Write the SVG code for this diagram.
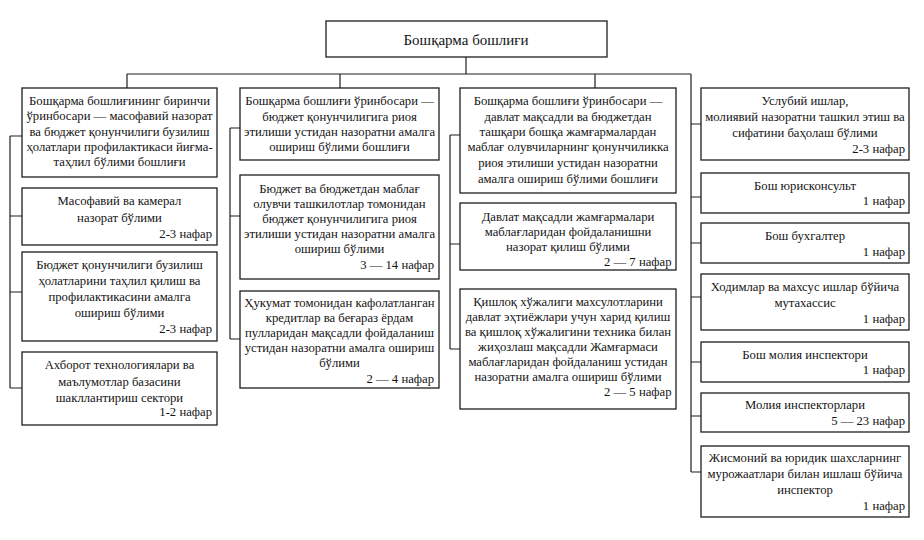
<svg xmlns="http://www.w3.org/2000/svg" width="924" height="540" viewBox="0 0 924 540">
<style>
.box{fill:#fff;stroke:#1e1e1e;stroke-width:1.3}
.ln{fill:none;stroke:#1e1e1e;stroke-width:1.2}
text{font-family:"Liberation Serif","Times New Roman",serif;font-size:12.7px;fill:#141414;text-anchor:middle}
.r{text-anchor:end}
.h{font-size:15px}
</style>
<rect width="924" height="540" fill="#fff"/>
<g id="connectors">
<path class="ln" d="M466,57V74M127,74H691M127,74V88M340,74V88M595,74V88M691,74V472"/>
<path class="ln" d="M10,136V388M10,136H22M10,216H22M10,292H22M10,388H22"/>
<path class="ln" d="M230,128V339M230,128H240M230,216H240M230,339H240"/>
<path class="ln" d="M450,135V349M450,135H460M450,244H460M450,349H460"/>
<path class="ln" d="M691,124H701M691,197H701M691,243H701M691,297H701M691,362H701M691,416H701M691,472H701"/>
</g>
<g id="head">
<rect class="box" x="326" y="21" width="281" height="36"/>
<text class="h" x="466" y="45">Бошқарма бошлиғи</text>
</g>
<g id="c1b1">
<rect class="box" x="22" y="88" width="195" height="89"/>
<text x="119.5" y="105">Бошқарма бошлиғининг биринчи</text>
<text x="119.5" y="120">ўринбосари — масофавий назорат</text>
<text x="119.5" y="135.5">ва бюджет қонунчилиги бузилиш</text>
<text x="119.5" y="150.5">ҳолатлари профилактикаси йиғма-</text>
<text x="119.5" y="166">таҳлил бўлими бошлиғи</text>
</g>
<g id="c1b2">
<rect class="box" x="22" y="188" width="195" height="57"/>
<text x="119.5" y="205">Масофавий ва камерал</text>
<text x="119.5" y="221.5">назорат бўлими</text>
<text class="r" x="212" y="237.5">2-3 нафар</text>
</g>
<g id="c1b3">
<rect class="box" x="22" y="252" width="195" height="89"/>
<text x="119.5" y="269">Бюджет қонунчилиги бузилиш</text>
<text x="119.5" y="285">ҳолатларини таҳлил қилиш ва</text>
<text x="119.5" y="301">профилактикасини амалга</text>
<text x="119.5" y="317">ошириш бўлими</text>
<text class="r" x="212" y="333">2-3 нафар</text>
</g>
<g id="c1b4">
<rect class="box" x="22" y="352" width="195" height="73"/>
<text x="119.5" y="369">Ахборот технологиялари ва</text>
<text x="119.5" y="385.5">маълумотлар базасини</text>
<text x="119.5" y="401.5">шакллантириш сектори</text>
<text class="r" x="212" y="416">1-2 нафар</text>
</g>
<g id="c2b1">
<rect class="box" x="240" y="88" width="199" height="72"/>
<text x="339.5" y="105">Бошқарма бошлиғи ўринбосари —</text>
<text x="339.5" y="120.5">бюджет қонунчилигига риоя</text>
<text x="339.5" y="136">этилиши устидан назоратни амалга</text>
<text x="339.5" y="151">ошириш бўлими бошлиғи</text>
</g>
<g id="c2b2">
<rect class="box" x="240" y="175" width="199" height="104"/>
<text x="339.5" y="193">Бюджет ва бюджетдан маблағ</text>
<text x="339.5" y="208">олувчи ташкилотлар томонидан</text>
<text x="339.5" y="223">бюджет қонунчилигига риоя</text>
<text x="339.5" y="238">этилиши устидан назоратни амалга</text>
<text x="339.5" y="253">ошириш бўлими</text>
<text class="r" x="434" y="268.5">3 — 14 нафар</text>
</g>
<g id="c2b3">
<rect class="box" x="240" y="291" width="199" height="97"/>
<text x="339.5" y="307">Ҳукумат томонидан кафолатланган</text>
<text x="339.5" y="322">кредитлар ва беғараз ёрдам</text>
<text x="339.5" y="337">пулларидан мақсадли фойдаланиш</text>
<text x="339.5" y="352">устидан назоратни амалга ошириш</text>
<text x="339.5" y="367">бўлими</text>
<text class="r" x="434" y="383">2 — 4 нафар</text>
</g>
<g id="c3b1">
<rect class="box" x="460" y="88" width="216" height="105"/>
<text x="568" y="105">Бошқарма бошлиғи ўринбосари —</text>
<text x="568" y="120.5">давлат мақсадли ва бюджетдан</text>
<text x="568" y="136">ташқари бошқа жамғармалардан</text>
<text x="568" y="151">маблағ олувчиларнинг қонунчиликка</text>
<text x="568" y="167">риоя этилиши устидан назоратни</text>
<text x="568" y="183">амалга ошириш бўлими бошлиғи</text>
</g>
<g id="c3b2">
<rect class="box" x="460" y="203" width="216" height="67"/>
<text x="568" y="220.5">Давлат мақсадли жамғармалари</text>
<text x="568" y="236">маблағларидан фойдаланишни</text>
<text x="568" y="251">назорат қилиш бўлими</text>
<text class="r" x="671.5" y="266">2 — 7 нафар</text>
</g>
<g id="c3b3">
<rect class="box" x="460" y="289" width="216" height="120"/>
<text x="568" y="306">Қишлоқ хўжалиги махсулотларини</text>
<text x="568" y="321">давлат эҳтиёжлари учун харид қилиш</text>
<text x="568" y="336">ва қишлоқ хўжалигини техника билан</text>
<text x="568" y="351">жиҳозлаш мақсадли Жамғармаси</text>
<text x="568" y="366">маблағларидан фойдаланиш устидан</text>
<text x="568" y="381">назоратни амалга ошириш бўлими</text>
<text class="r" x="671.5" y="396">2 — 5 нафар</text>
</g>
<g id="c4b1">
<rect class="box" x="701" y="88" width="208" height="72"/>
<text x="805" y="105">Услубий ишлар,</text>
<text x="805" y="121">молиявий назоратни ташкил этиш ва</text>
<text x="805" y="137">сифатини баҳолаш бўлими</text>
<text class="r" x="905" y="153">2-3 нафар</text>
</g>
<g id="c4b2">
<rect class="box" x="701" y="173" width="208" height="40"/>
<text x="805" y="189.5">Бош юрисконсульт</text>
<text class="r" x="905" y="204.5">1 нафар</text>
</g>
<g id="c4b3">
<rect class="box" x="701" y="223" width="208" height="40"/>
<text x="805" y="239.5">Бош бухгалтер</text>
<text class="r" x="905" y="256">1 нафар</text>
</g>
<g id="c4b4">
<rect class="box" x="701" y="274" width="208" height="56"/>
<text x="805" y="290.5">Ходимлар ва махсус ишлар бўйича</text>
<text x="805" y="307">мутахассис</text>
<text class="r" x="905" y="323">1 нафар</text>
</g>
<g id="c4b5">
<rect class="box" x="701" y="342" width="208" height="40"/>
<text x="805" y="358.5">Бош молия инспектори</text>
<text class="r" x="905" y="374">1 нафар</text>
</g>
<g id="c4b6">
<rect class="box" x="701" y="393" width="208" height="39"/>
<text x="805" y="408.5">Молия инспекторлари</text>
<text class="r" x="905" y="424.5">5 — 23 нафар</text>
</g>
<g id="c4b7">
<rect class="box" x="701" y="446" width="208" height="71"/>
<text x="805" y="462">Жисмоний ва юридик шахсларнинг</text>
<text x="805" y="478">мурожаатлари билан ишлаш бўйича</text>
<text x="805" y="494">инспектор</text>
<text class="r" x="905" y="509.5">1 нафар</text>
</g>
</svg>
